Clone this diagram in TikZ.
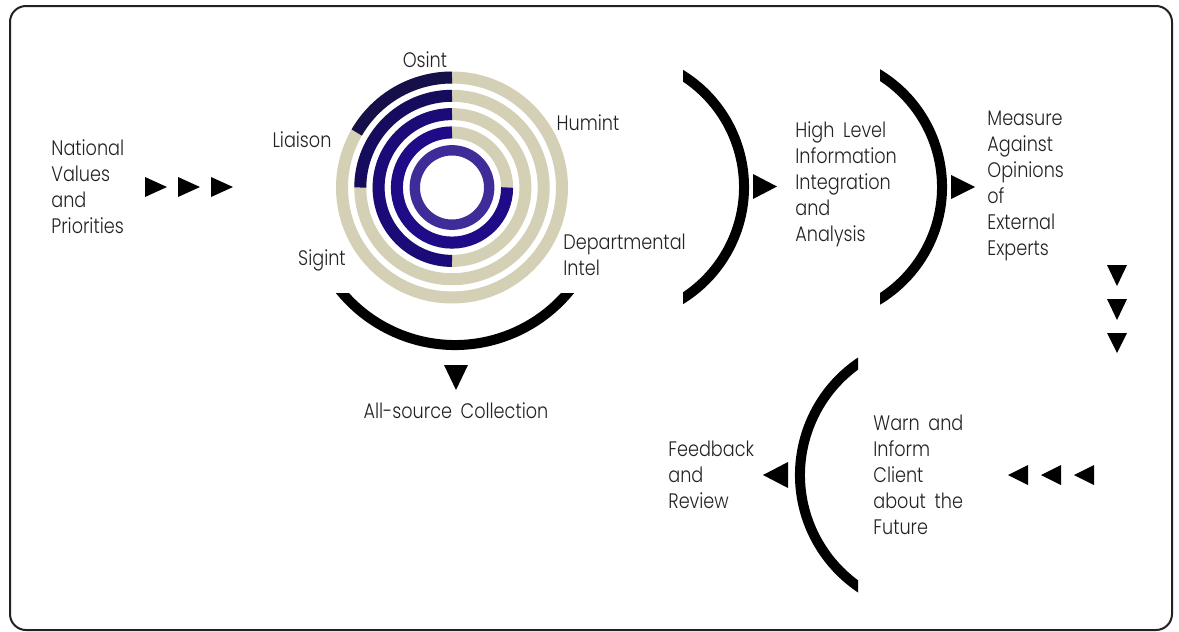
\documentclass[tikz,border=0pt]{standalone}
\usepackage{fontspec}
\setmainfont{Poppins Light}[FakeStretch=0.84, WordSpace=1.8]
\usepackage{xcolor}

\definecolor{ringsand}{HTML}{D4D0B6}
\definecolor{ringone}{HTML}{16104A}
\definecolor{ringtwo}{HTML}{150C5E}
\definecolor{ringthree}{HTML}{1B0B78}
\definecolor{ringfour}{HTML}{1F0B88}
\definecolor{ringfive}{HTML}{402C98}
\definecolor{inktext}{HTML}{222222}

\begin{document}
\begin{tikzpicture}[x=0.5pt, y=0.5pt,
  txt/.style={font=\fontsize{10.5}{13}\selectfont, text=inktext, align=left, inner sep=0pt},
  ring/.style={line width=6pt},
  bracket/.style={line width=5pt, black}]
  \useasboundingbox (0,0) rectangle (1179,-632);
  \draw[inktext, line width=1pt, rounded corners=8pt] (10,-6) rectangle (1172,-630);

  % concentric rings, sand part first, coloured part on top
  \draw[ring, ringsand] (452,-187.5) circle[radius=110];
  \draw[ring, ringsand] (452,-187.5) circle[radius=91.7];
  \draw[ring, ringsand] (452,-187.5) circle[radius=73.4];
  \draw[ring, ringsand] (452,-187.5) circle[radius=55.1];
  \draw[ring, ringone] (452,-77.5) arc[start angle=90, end angle=150, radius=110];
  \draw[ring, ringtwo] (452,-95.8) arc[start angle=90, end angle=180, radius=91.7];
  \draw[ring, ringthree] (452,-114.1) arc[start angle=90, end angle=270, radius=73.4];
  \draw[ring, ringfour] (452,-132.4) arc[start angle=90, end angle=360, radius=55.1];
  \draw[line width=5.2pt, ringfive] (452,-187.5) circle[radius=37.2];

  \node[txt] (osint) at (425,-60) {Osint};
  \node[txt] (humint) at (588,-123) {Humint};
  \node[txt] (liaison) at (302,-140) {Liaison};
  \node[txt] (sigint) at (322,-260) {Sigint};
  \node[txt, anchor=west] (dept) at (563,-255) {Departmental\\Intel};

  % bowl under the rings
  \begin{scope}
    \clip (300,-293) rectangle (620,-360);
    \draw[bracket] (455,-197) ++(200:148) arc[start angle=200, end angle=340, radius=148];
  \end{scope}
  \fill (444,-365) -- (468,-365) -- (456,-390) -- cycle;
  \node[txt] (collect) at (456,-411) {All-source Collection};

  % national values
  \node[txt, anchor=west] (values) at (51,-187) {National\\Values\\and\\Priorities};
  \fill (145,-177) -- (167,-187) -- (145,-197) -- cycle;
  \fill (178,-177) -- (200,-187) -- (178,-197) -- cycle;
  \fill (211,-177) -- (233,-187) -- (211,-197) -- cycle;

  % analysis
  \begin{scope}
    \clip (683,-40) rectangle (780,-330);
    \draw[bracket] (612,-187) ++(65:132) arc[start angle=65, end angle=-65, radius=132];
  \end{scope}
  \fill (753,-174) -- (777,-186.5) -- (753,-199) -- cycle;
  \node[txt, anchor=west] (analysis) at (795,-184) {High Level\\Information\\Integration\\and\\Analysis};

  % external experts
  \begin{scope}
    \clip (880,-40) rectangle (980,-330);
    \draw[bracket] (810,-187) ++(65:132) arc[start angle=65, end angle=-65, radius=132];
  \end{scope}
  \fill (951,-175) -- (975,-187) -- (951,-199) -- cycle;
  \node[txt, anchor=west] (experts) at (987,-185.5) {Measure\\Against\\Opinions\\of\\External\\Experts};

  \fill (1107,-265) -- (1127,-265) -- (1117,-286) -- cycle;
  \fill (1107,-299) -- (1127,-299) -- (1117,-320) -- cycle;
  \fill (1107,-333) -- (1127,-333) -- (1117,-353) -- cycle;

  % warn the client
  \fill (1028,-465) -- (1028,-485) -- (1008,-475) -- cycle;
  \fill (1061,-465) -- (1061,-485) -- (1041,-475) -- cycle;
  \fill (1094,-465) -- (1094,-485) -- (1074,-475) -- cycle;
  \node[txt, anchor=west] (warn) at (873,-475) {Warn and\\Inform\\Client\\about the\\Future};
  \begin{scope}
    \clip (780,-340) rectangle (858,-610);
    \draw[bracket] (936,-475) ++(115:136) arc[start angle=115, end angle=245, radius=136];
  \end{scope}
  \fill (788,-462) -- (788,-488) -- (763,-475) -- cycle;
  \node[txt, anchor=west] (review) at (668,-475) {Feedback\\and\\Review};
\end{tikzpicture}
\end{document}
